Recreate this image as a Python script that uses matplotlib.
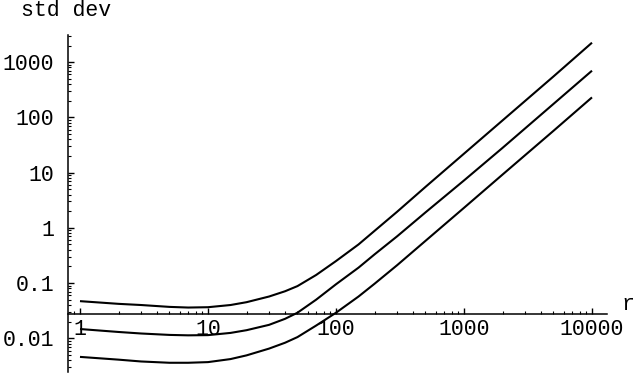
import numpy as np
import matplotlib.pyplot as plt
from matplotlib.ticker import LogLocator, FixedLocator, FixedFormatter, NullFormatter

# ---------------- DATA ----------------
r = [1, 2, 3, 5, 7, 10, 15, 20, 30, 40, 50, 70, 100, 150, 200, 300, 500,
     1000, 2000, 5000, 10000]
sd_top = [0.047, 0.042, 0.040, 0.037, 0.036, 0.0365, 0.040, 0.045, 0.057, 0.071,
          0.088, 0.14, 0.25, 0.50, 0.88, 1.95, 5.5, 22, 88, 550, 2250]
sd_mid = [0.0147, 0.013, 0.0122, 0.0115, 0.0113, 0.0114, 0.0125, 0.014, 0.0175, 0.0225,
          0.029, 0.05, 0.095, 0.19, 0.33, 0.70, 1.9, 7.2, 28, 175, 700]
sd_bot = [0.0046, 0.0041, 0.0038, 0.0036, 0.0036, 0.0037, 0.0042, 0.0049, 0.0065, 0.0083,
          0.0105, 0.017, 0.029, 0.057, 0.097, 0.21, 0.58, 2.3, 9.2, 57, 230]

xticks = [1, 10, 100, 1000, 10000]
xtick_labels = ["1", "10", "100", "1000", "10000"]
yticks = [0.01, 0.1, 1, 10, 100, 1000]
ytick_labels = ["0.01", "0.1", "1", "10", "100", "1000"]
x_cross = 0.028   # where the r axis crosses the std dev axis

FONT = "Liberation Mono"
FS = 15.5

# ---------------- FIGURE ----------------
fig = plt.figure(figsize=(6.36, 3.90), dpi=100)
ax = fig.add_axes([68/636, 1 - 372/390, (607 - 68)/636, (372 - 35)/390])

for y in (sd_top, sd_mid, sd_bot):
    ax.plot(r, y, "-", color="black", lw=1.5, solid_capstyle="butt")

ax.set_xscale("log")
ax.set_yscale("log")
ax.set_xlim(0.806, 13100)
ax.set_ylim(0.00245, 3100)

# Mathematica-style axes: y axis at the left, r axis crossing at x_cross
ax.spines["top"].set_visible(False)
ax.spines["right"].set_visible(False)
ax.spines["bottom"].set_position(("data", x_cross))
for s in ("left", "bottom"):
    ax.spines[s].set_linewidth(1.1)

ax.xaxis.set_major_locator(FixedLocator(xticks))
ax.xaxis.set_major_formatter(FixedFormatter(xtick_labels))
ax.xaxis.set_minor_locator(LogLocator(base=10, subs=np.arange(2, 10), numticks=20))
ax.xaxis.set_minor_formatter(NullFormatter())
ax.yaxis.set_major_locator(FixedLocator(yticks))
ax.yaxis.set_major_formatter(FixedFormatter(ytick_labels))
ax.yaxis.set_minor_locator(LogLocator(base=10, subs=np.arange(2, 10), numticks=20))
ax.yaxis.set_minor_formatter(NullFormatter())

ax.tick_params(axis="both", which="major", direction="in", length=4, width=1.0,
               labelsize=FS)
ax.tick_params(axis="both", which="minor", direction="in", length=2, width=0.8)
ax.tick_params(axis="y", which="major", pad=10)
ax.tick_params(axis="x", which="major", pad=4)
for lab in ax.get_xticklabels() + ax.get_yticklabels():
    lab.set_fontfamily(FONT)

fig.text(628/636, 1 - 305/390, "r", fontsize=FS, family=FONT,
         ha="center", va="center")
fig.text(66/636, 1 - 10/390, "std dev", fontsize=FS, family=FONT,
         ha="center", va="center")

fig.savefig("out.png", dpi=100)
